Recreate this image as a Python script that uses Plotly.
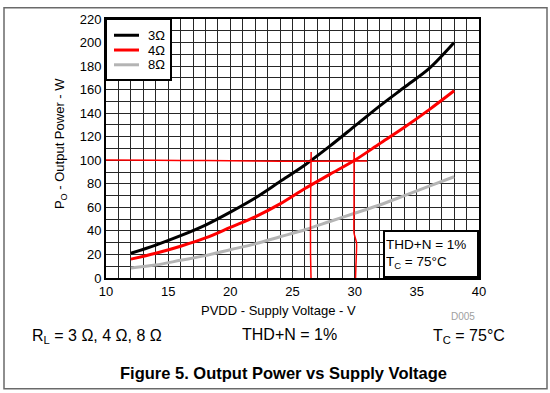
import plotly.graph_objects as go

# ---------------- data ----------------
voltage = [12, 14, 16, 18, 20, 22, 24, 26, 28, 30, 32, 34, 36, 38]
p_3ohm = [21, 28, 36, 45, 56, 68, 82, 96, 112, 129, 146, 162, 178, 200]
p_4ohm = [16, 21, 27, 34, 43, 52, 63, 76, 88, 100, 114, 128, 143, 159]
p_8ohm = [8.5, 11, 15, 19, 24, 29, 35, 41, 48, 55, 62, 70, 78, 86]
series_names = ["3\u03a9", "4\u03a9", "8\u03a9"]

# hand-drawn red marker lines (V, W)
mark_h_v = [9.85, 14, 18, 22, 26, 31.0]
mark_h_p = [100.3, 100.0, 99.8, 99.3, 99.2, 99.3]
mark_v1_v = [26.5, 26.45, 26.45, 26.5]
mark_v1_p = [107, 60, 20, -5]
mark_v2_v = [29.95, 29.95, 29.95, 30.15, 30.1, 30.05]
mark_v2_p = [107, 60, 38, 30, 10, -7]

x_ticks = [10, 15, 20, 25, 30, 35, 40]
x_labels = ["10", "15", "20", "25", "30", "35", "40"]
y_ticks = [0, 20, 40, 60, 80, 100, 120, 140, 160, 180, 200, 220]
y_labels = ["0", "20", "40", "60", "80", "100", "120", "140", "160", "180", "200", "220"]

# ---------------- layout geometry (pixels) ----------------
W, H = 550, 393
L, R, T, B = 106, 479, 15, 278


def px(x):
    return (x - L) / (R - L)


def py(y):
    return (B - y) / (B - T)


FONT = "Arial, Liberation Sans, sans-serif"
GRID = "#262626"

fig = go.Figure()
colors = ["#000000", "#ff0000", "#b4b4b4"]
for name, vals, c in zip(series_names, [p_3ohm, p_4ohm, p_8ohm], colors):
    fig.add_trace(go.Scatter(x=voltage, y=vals, name=name, mode="lines", showlegend=False,
                             line=dict(color=c, width=3, shape="spline", smoothing=0.9)))

for xs, ys in [(mark_h_v, mark_h_p), (mark_v1_v, mark_v1_p), (mark_v2_v, mark_v2_p)]:
    fig.add_trace(go.Scatter(x=xs, y=ys, mode="lines", showlegend=False, cliponaxis=False,
                             hoverinfo="skip",
                             line=dict(color="#ff0000", width=1.5, shape="spline", smoothing=0.5)))

fig.update_layout(
    width=W, height=H,
    margin=dict(l=L, r=W - R, t=T, b=H - B, pad=0),
    paper_bgcolor="white", plot_bgcolor="white",
    font=dict(family=FONT, size=13, color="black"),
    showlegend=False,
)
grid_common = dict(ticks="", showgrid=True, gridcolor=GRID, gridwidth=1, zeroline=False,
                   showline=True, linecolor="black", linewidth=2, mirror=True,
                   tickfont=dict(size=13))
fig.update_xaxes(range=[10, 40], tickvals=x_ticks, ticktext=x_labels,
                 minor=dict(dtick=1, showgrid=True, gridcolor=GRID, gridwidth=1, ticks=""),
                 **grid_common)
fig.update_yaxes(range=[0, 220], tickvals=y_ticks, ticktext=y_labels,
                 minor=dict(dtick=10, showgrid=True, gridcolor=GRID, gridwidth=1, ticks=""),
                 **grid_common)

ann = []
ann.append(dict(text="P<sub>O</sub> - Output Power - W", x=px(60), y=py(142), textangle=-90,
                xanchor="center", yanchor="middle", font=dict(size=13)))
ann.append(dict(text="PVDD - Supply Voltage - V", x=px(278), y=py(311),
                xanchor="center", yanchor="middle", font=dict(size=13)))
ann.append(dict(text="D005", x=px(463), y=py(317), xanchor="center", yanchor="middle",
                font=dict(size=10, color="#a0a0a0")))
ann.append(dict(text="R<sub>L</sub> = 3 \u03a9, 4 \u03a9, 8 \u03a9", x=px(30), y=py(337),
                xanchor="left", yanchor="middle", font=dict(size=16)))
ann.append(dict(text="THD+N = 1%", x=px(289), y=py(335), xanchor="center", yanchor="middle",
                font=dict(size=16)))
ann.append(dict(text="T<sub>C</sub> = 75\u00b0C", x=px(507), y=py(337), xanchor="right",
                yanchor="middle", font=dict(size=16)))
ann.append(dict(text="<b>Figure 5. Output Power vs Supply Voltage</b>", x=px(283), y=py(374),
                xanchor="center", yanchor="middle", font=dict(size=16.5)))
ann.append(dict(text="THD+N = 1%<br>T<sub>C</sub> = 75\u00b0C", x=1, y=0, xanchor="right",
                yanchor="bottom", align="left", bgcolor="white", bordercolor="black",
                borderwidth=2, width=90, height=42, font=dict(size=13.5)))

# legend (drawn as a boxed key in the top-left corner of the plot)
legend_rows = [31.5, 46.5, 61.5]
for name, c, yrow in zip(series_names, colors, legend_rows):
    ann.append(dict(text=name, x=px(146), y=py(yrow), xanchor="left", yanchor="middle",
                    font=dict(size=13)))
for a in ann:
    a.update(xref="paper", yref="paper", showarrow=False)
fig.update_layout(annotations=ann)

shapes = [
    dict(type="rect", xref="paper", yref="paper", x0=px(4), x1=px(547), y0=py(390.5), y1=py(3.5),
         line=dict(color="#6a6a6a", width=1.5), layer="below"),
    dict(type="rect", xref="paper", yref="paper", x0=px(106), x1=px(171), y0=py(77), y1=py(15),
         line=dict(color="black", width=2), fillcolor="white", layer="above"),
]
for c, yrow in zip(colors, legend_rows):
    shapes.append(dict(type="line", xref="paper", yref="paper", x0=px(114), x1=px(139),
                       y0=py(yrow), y1=py(yrow), line=dict(color=c, width=3), layer="above"))
fig.update_layout(shapes=shapes)

fig.write_html("out.html", post_script="document.body.style.margin='0';",
               config={"displayModeBar": False})
